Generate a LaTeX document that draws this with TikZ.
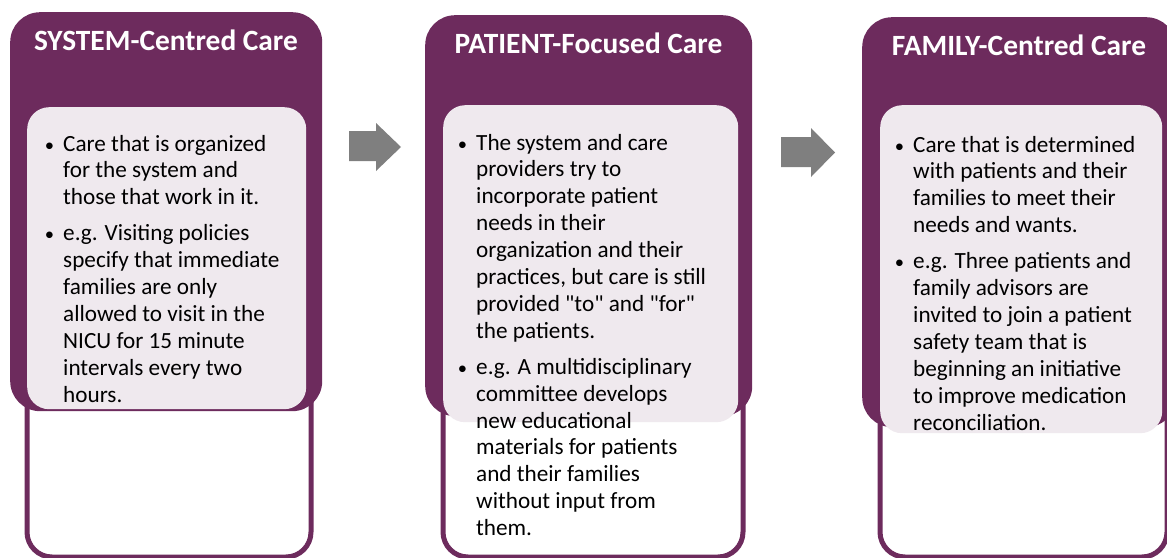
\documentclass[tikz,border=0pt]{standalone}
\usepackage{fontspec}
\setmainfont{Carlito}
\definecolor{berry}{HTML}{6D2B5D}
\definecolor{mist}{HTML}{EFE9EE}
\definecolor{flowgray}{HTML}{7F7F7F}

% body text block: manual line breaks, hanging bullets
\newcommand{\carebody}[1]{%
  \begin{minipage}[t]{300pt}
    \fontsize{23.2pt}{26.9pt}\selectfont\raggedright
    \parindent=0pt \parskip=9pt
    #1
  \end{minipage}}
\newcommand{\bul}{\leavevmode\llap{\scalebox{0.8}{\textbullet}\hspace{9pt}}}
% straight double quote, set as a glyph so no input mapping curls it
\newcommand{\dq}{\XeTeXglyph\XeTeXcharglyph"0022\relax}

\begin{document}
\begin{tikzpicture}[x=1pt,y=-1pt,
  stage/.style={fill=berry, rounded corners=30pt, inner sep=0pt, anchor=north west},
  frame/.style={draw=berry, line width=5pt, fill=white, rounded corners=25pt, inner sep=0pt, anchor=north west},
  panel/.style={fill=mist, rounded corners=22pt, inner sep=0pt, anchor=north west},
  heading/.style={anchor=base, text=white, inner sep=0pt, font=\fontsize{29.4pt}{34pt}\selectfont\bfseries},
  bodytext/.style={anchor=base west, inner sep=0pt, text=black},
  flow/.style={fill=flowgray}
]
\useasboundingbox (0,0) rectangle (1167,557);
\clip (0,0) rectangle (1167,557);

% outlined lower frames
\node[frame, minimum width=284pt, minimum height=454.5pt] (f1) at (24.5,100) {};
\node[frame, minimum width=300pt, minimum height=454.5pt] (f2) at (440.5,100) {};
\node[frame, minimum width=287pt, minimum height=454.5pt] (f3) at (877.5,100) {};

% purple stage boxes
\node[stage, minimum width=312pt, minimum height=399pt] (s1) at (10,12) {};
\node[stage, minimum width=327pt, minimum height=401pt] (s2) at (425,15) {};
\node[stage, minimum width=314pt, minimum height=410pt] (s3) at (862,17) {};

% light text panels
\node[panel, minimum width=279pt, minimum height=302pt] (p1) at (27,107) {};
\node[panel, minimum width=295pt, minimum height=317pt] (p2) at (443,105) {};
\node[panel, minimum width=282pt, minimum height=328pt] (p3) at (880,105) {};

% headings
\node[heading] (h1) at (166,50) {SYSTEM-Centred Care};
\node[heading] (h2) at (588.5,53) {PATIENT-Focused Care};
\node[heading] (h3) at (1019,55) {FAMILY-Centred Care};

% block arrows between the stages
\fill[flow] (349,131) -- (376,131) -- (376,123) -- (401,147) -- (376,171) -- (376,161) -- (349,161) -- cycle;
\fill[flow] (781,137) -- (811,137) -- (811,128) -- (835,152.5) -- (811,177) -- (811,167) -- (781,167) -- cycle;

% body texts
\node[bodytext] (t1) at (63,151) {\carebody{%
\bul Care that is organized\\ for the system and\\ those that work in it.\par
\bul e.g. Visiting policies\\ specify that immediate\\ families are only\\ allowed to visit in the\\ NICU for 15 minute\\ intervals every two\\ hours.}};

\node[bodytext] (t2) at (476,150) {\carebody{%
\bul The system and care\\ providers try to\\ incorporate patient\\ needs in their\\ organization and their\\ practices, but care is still\\ provided \dq to\dq{} and \dq for\dq\\ the patients.\par
\bul e.g. A multidisciplinary\\ committee develops\\ new educational\\ materials for patients\\ and their families\\ without input from\\ them.}};

\node[bodytext] (t3) at (913,152) {\carebody{%
\bul Care that is determined\\ with patients and their\\ families to meet their\\ needs and wants.\par
\bul e.g. Three patients and\\ family advisors are\\ invited to join a patient\\ safety team that is\\ beginning an initiative\\ to improve medication\\ reconciliation.}};
\end{tikzpicture}
\end{document}
